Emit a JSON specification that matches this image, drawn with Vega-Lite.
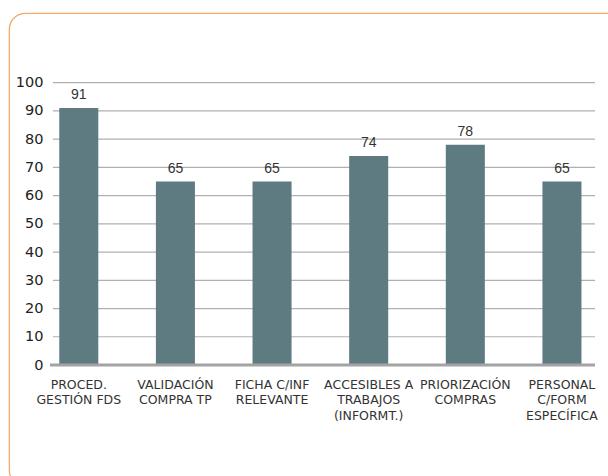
{
  "$schema": "https://vega.github.io/schema/vega-lite/v6.json",
  "width": 620,
  "height": 473,
  "autosize": {"type": "none"},
  "padding": {"left": 9, "top": 13, "right": -21, "bottom": -10},
  "background": "white",
  "config": {
    "view": {"stroke": "#f2a765", "strokeWidth": 1.2, "cornerRadius": 16},
    "axis": {"title": null},
    "axisX": {"orient": "bottom", "offset": -121, "domain": false, "ticks": false, "grid": false, "labelAngle": 0,
              "labelPadding": 13, "labelFont": "DejaVu Sans", "labelFontSize": 12.5, "labelColor": "#333333",
              "labelLineHeight": 15.5, "labelLimit": 200, "labelOverlap": false, "bandPosition": 0.5},
    "axisY": {"grid": false, "domain": false, "ticks": false, "offset": -44, "labelPadding": 10,
              "labelFont": "DejaVu Sans", "labelFontSize": 14.5, "labelColor": "#222222"}
  },
  "data": {
    "values": [
      {"cat": "PROCED.\nGESTIÓN FDS", "value": 91},
      {"cat": "VALIDACIÓN\nCOMPRA TP", "value": 65},
      {"cat": "FICHA C/INF\nRELEVANTE", "value": 65},
      {"cat": "ACCESIBLES A\nTRABAJOS\n(INFORMT.)", "value": 74},
      {"cat": "PRIORIZACIÓN\nCOMPRAS", "value": 78},
      {"cat": "PERSONAL\nC/FORM\nESPECÍFICA", "value": 65}
    ]
  },
  "layer": [
    {
      "data": {"values": [{"g": 10}, {"g": 20}, {"g": 30}, {"g": 40}, {"g": 50}, {"g": 60}, {"g": 70}, {"g": 80}, {"g": 90}, {"g": 100}]},
      "mark": {"type": "rule", "color": "#b0b0b0", "strokeWidth": 1.2},
      "encoding": {
        "x": {"datum": "PROCED.\nGESTIÓN FDS", "type": "nominal", "bandPosition": -0.162,
              "scale": {"domain": ["PROCED.\nGESTIÓN FDS", "VALIDACIÓN\nCOMPRA TP", "FICHA C/INF\nRELEVANTE", "ACCESIBLES A\nTRABAJOS\n(INFORMT.)", "PRIORIZACIÓN\nCOMPRAS", "PERSONAL\nC/FORM\nESPECÍFICA"], "paddingInner": 0.596, "paddingOuter": 0.506, "align": 0.514},
              "axis": {"bandPosition": 0.5, "labelExpr": "split(datum.value, '\\n')"}},
        "x2": {"datum": "PERSONAL\nC/FORM\nESPECÍFICA", "bandPosition": 1.346},
        "y": {"field": "g", "type": "quantitative",
              "scale": {"domain": [-42.86, 124.69], "nice": false, "zero": false},
              "axis": {"values": [0, 10, 20, 30, 40, 50, 60, 70, 80, 90, 100]}}
      }
    },
    {
      "mark": {"type": "bar", "color": "#5e7b82"},
      "encoding": {
        "x": {"field": "cat", "type": "nominal", "sort": null,
              "axis": {"bandPosition": 0.5, "labelExpr": "split(datum.value, '\\n')"}},
        "y": {"field": "value", "type": "quantitative",
              "axis": {"values": [0, 10, 20, 30, 40, 50, 60, 70, 80, 90, 100]}},
        "y2": {"datum": 0}
      }
    },
    {
      "mark": {"type": "text", "baseline": "bottom", "dy": -6, "font": "Liberation Sans", "fontSize": 14, "color": "#333333"},
      "encoding": {
        "x": {"field": "cat", "type": "nominal", "sort": null,
              "axis": {"bandPosition": 0.5, "labelExpr": "split(datum.value, '\\n')"}},
        "y": {"field": "value", "type": "quantitative",
              "axis": {"values": [0, 10, 20, 30, 40, 50, 60, 70, 80, 90, 100]}},
        "text": {"field": "value", "type": "quantitative"}
      }
    },
    {
      "data": {"values": [{"z": 0}]},
      "mark": {"type": "rule", "color": "#a3a3a3", "strokeWidth": 3},
      "encoding": {
        "x": {"datum": "PROCED.\nGESTIÓN FDS", "type": "nominal", "bandPosition": -0.238,
              "axis": {"bandPosition": 0.5, "labelExpr": "split(datum.value, '\\n')"}},
        "x2": {"datum": "PERSONAL\nC/FORM\nESPECÍFICA", "bandPosition": 1.346},
        "y": {"field": "z", "type": "quantitative",
              "axis": {"values": [0, 10, 20, 30, 40, 50, 60, 70, 80, 90, 100]}}
      }
    }
  ]
}
